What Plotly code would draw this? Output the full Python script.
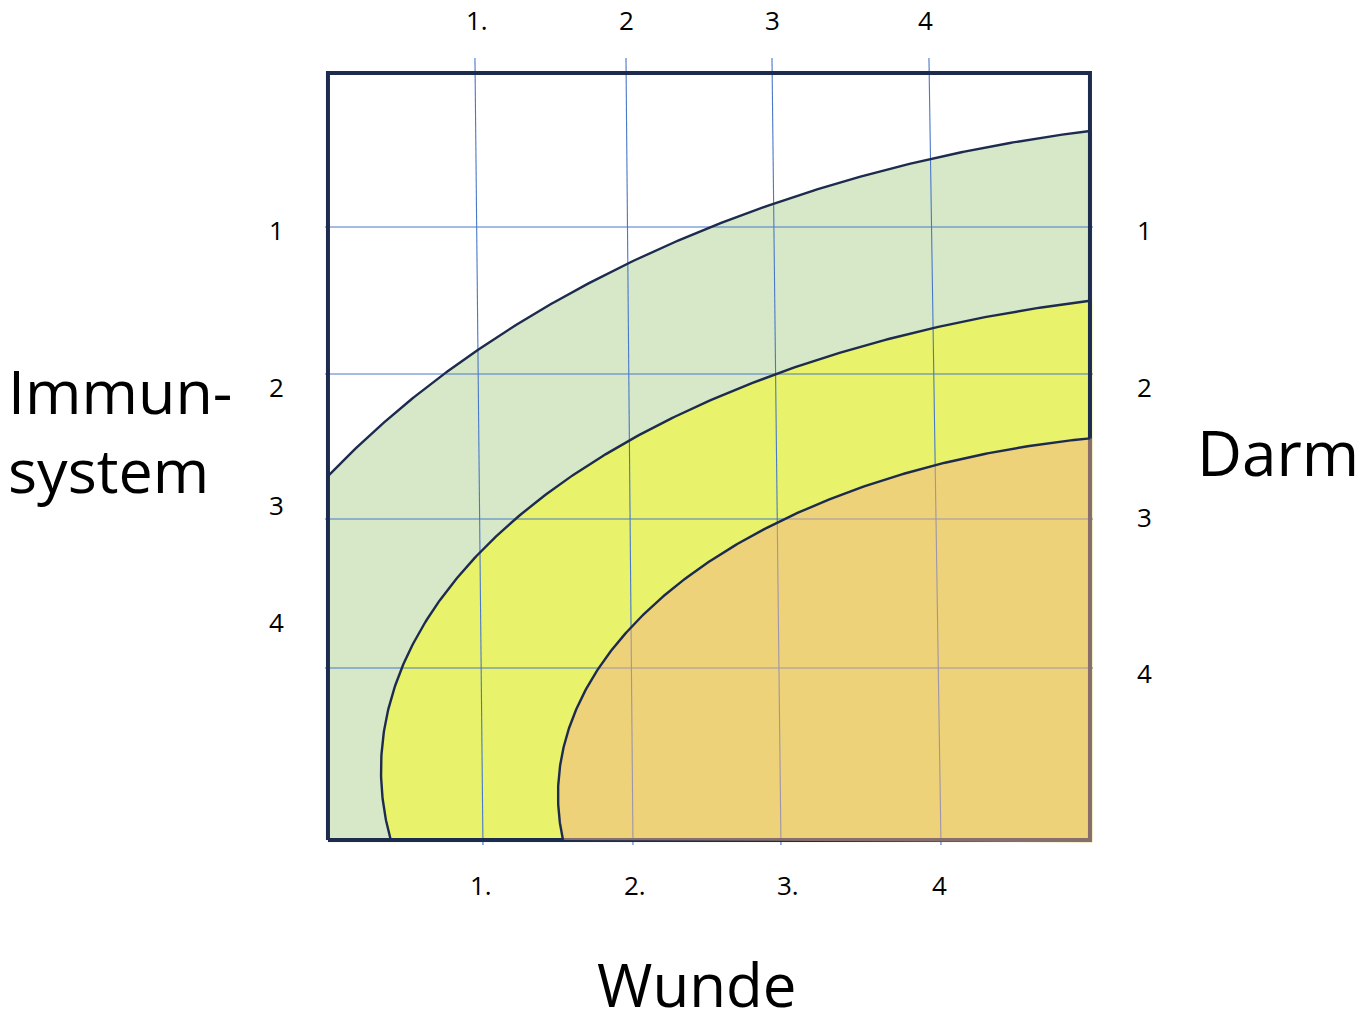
import numpy as np
import plotly.graph_objects as go

# ---- data (diagram units: the square box spans 0..100 in x and y) ----
top_tick_labels = ["1.", "2", "3", "4"]
top_tick_x = [19.6, 39.2, 58.3, 78.4]
bottom_tick_labels = ["1.", "2.", "3.", "4"]
bottom_tick_x = [20.1, 40.3, 60.4, 80.3]
left_tick_labels = ["1", "2", "3", "4"]
left_tick_y = [79.5, 59.1, 43.7, 28.4]
right_tick_labels = ["1", "2", "3", "4"]
right_tick_y = [79.5, 59.1, 42.1, 21.8]

grid_x_top = [19.29, 39.11, 58.27, 78.87]
grid_x_bottom = [20.34, 40.03, 59.45, 80.45]
grid_y = [79.92, 60.76, 41.85, 22.43]

zone_names = ["outer", "middle", "inner"]
zone_cx = [127.56, 127.56, 114.44]
zone_cy = [-7.82, 9.13, 5.87]
zone_rx = [151.8, 120.6, 84.25]
zone_ry = [101.96, 62.84, 47.2]
zone_colors = ["#D7E8C9", "#E8F26A", "rgba(242,178,138,0.5)"]

axis_title_left = "Immun-<br>system"
axis_title_right = "Darm"
axis_title_bottom = "Wunde"

NAVY = "#1C2B4E"
GRID = "#4A78C8"
FONT = "Open Sans"


def arc(cx, cy, rx, ry, n=300):
    t_end = np.arccos((100 - cx) / rx)
    if cx - rx < 0:
        t_start = np.arccos((0 - cx) / rx)
    else:
        t_start = np.pi + np.arcsin(cy / ry)
    t = np.linspace(t_start, t_end, n)
    return cx + rx * np.cos(t), cy + ry * np.sin(t)


fig = go.Figure()

arcs = []
for name, cx, cy, rx, ry in zip(zone_names, zone_cx, zone_cy, zone_rx, zone_ry):
    ax_, ay_ = arc(cx, cy, rx, ry)
    arcs.append((ax_, ay_))


def fill_trace(i):
    ax_, ay_ = arcs[i]
    px = list(ax_) + [100.3, 100.3]
    py = list(ay_) + [ay_[-1], -0.3]
    if ax_[0] <= 0.01:
        px += [0]
        py += [-0.3]
    px += [ax_[0]]
    py += [ay_[0]]
    return go.Scatter(x=px, y=py, mode="lines", fill="toself",
                      fillcolor=zone_colors[i], line=dict(width=0),
                      hoverinfo="skip", showlegend=False)


# green and yellow zones
fig.add_trace(fill_trace(0))
fig.add_trace(fill_trace(1))

# grid lines
for xt, xb in zip(grid_x_top, grid_x_bottom):
    fig.add_trace(go.Scatter(x=[xt, xb], y=[101.96, -0.65], mode="lines",
                             line=dict(color=GRID, width=1.1),
                             hoverinfo="skip", showlegend=False))
for yy in grid_y:
    fig.add_trace(go.Scatter(x=[-0.4, 100.4], y=[yy, yy], mode="lines",
                             line=dict(color=GRID, width=1.1),
                             hoverinfo="skip", showlegend=False))

# box border
fig.add_trace(go.Scatter(x=[0, 100, 100, 0, 0], y=[0, 0, 100, 100, 0], mode="lines",
                         line=dict(color=NAVY, width=4),
                         hoverinfo="skip", showlegend=False))

# orange zone (translucent overlay)
fig.add_trace(fill_trace(2))

# zone outlines
for ax_, ay_ in arcs:
    fig.add_trace(go.Scatter(x=ax_, y=ay_, mode="lines",
                             line=dict(color=NAVY, width=2.4),
                             hoverinfo="skip", showlegend=False))

ann = []
for lab, x in zip(top_tick_labels, top_tick_x):
    ann.append(dict(x=x, y=106.9, text=lab))
for lab, x in zip(bottom_tick_labels, bottom_tick_x):
    ann.append(dict(x=x, y=-5.9, text=lab))
for lab, y in zip(left_tick_labels, left_tick_y):
    ann.append(dict(x=-6.8, y=y, text=lab))
for lab, y in zip(right_tick_labels, right_tick_y):
    ann.append(dict(x=107.1, y=y, text=lab))
for a in ann:
    a.update(xref="x", yref="y", showarrow=False, xanchor="center", yanchor="middle",
             font=dict(family=FONT, size=26, color="black"))

ann.append(dict(x=-42.3, y=53.4, text=axis_title_left, xref="x", yref="y",
                showarrow=False, xanchor="left", yanchor="middle", align="left",
                font=dict(family=FONT, size=61, color="black")))
ann.append(dict(x=124.7, y=50.6, text=axis_title_right, xref="x", yref="y",
                showarrow=False, xanchor="center", yanchor="middle",
                font=dict(family=FONT, size=62, color="black")))
ann.append(dict(x=48.4, y=-18.75, text=axis_title_bottom, xref="x", yref="y",
                showarrow=False, xanchor="center", yanchor="middle", borderpad=0,
                font=dict(family=FONT, size=60, color="black")))

fig.update_layout(
    width=1370, height=1023, autosize=False,
    margin=dict(l=0, r=0, t=0, b=0, pad=0),
    paper_bgcolor="white", plot_bgcolor="white",
    xaxis=dict(range=[-43.04, 136.75], visible=False, fixedrange=True),
    yaxis=dict(range=[-23.86, 109.52], visible=False, fixedrange=True),
    annotations=ann,
    showlegend=False,
)

fig.write_html(
    "out.html",
    config={"displayModeBar": False},
    post_script="document.body.style.margin='0';document.body.style.overflow='hidden';",
)
